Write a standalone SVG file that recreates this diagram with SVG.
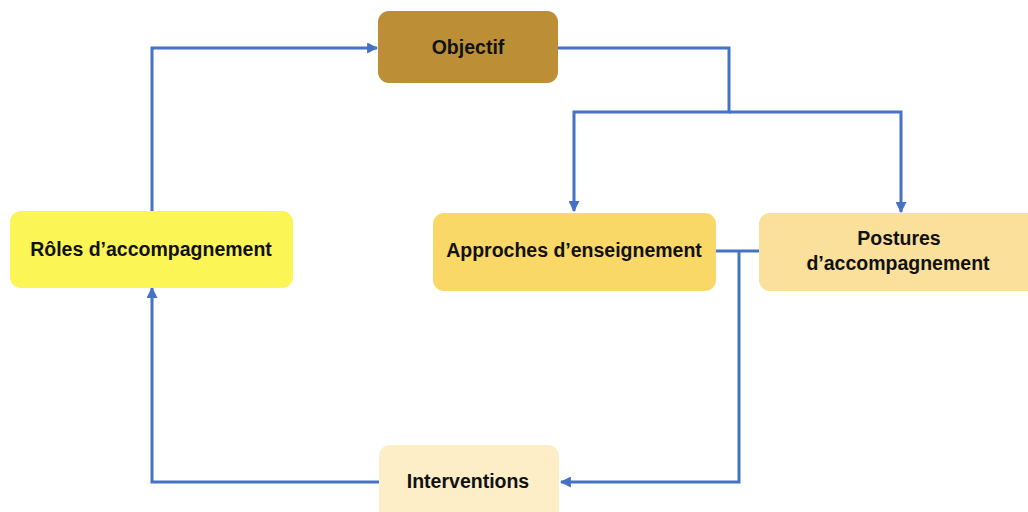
<svg xmlns="http://www.w3.org/2000/svg" width="1028" height="512" viewBox="0 0 1028 512">
<defs>
<style>
.lbl{font-family:"Liberation Sans",Arial,sans-serif;font-weight:bold;font-size:19.5px;fill:#111;text-anchor:middle}
.conn{fill:none;stroke:#4472C4;stroke-width:3}
</style>
<marker id="arr" viewBox="0 0 10 10" refX="9" refY="5" markerWidth="11" markerHeight="11" markerUnits="userSpaceOnUse" orient="auto">
<path d="M0,0 L10,5 L0,10 Z" fill="#4472C4"/>
</marker>
</defs>
<rect width="1028" height="512" fill="#ffffff"/>
<g id="connectors">
<path class="conn" d="M152,211 V48 H377" marker-end="url(#arr)"/>
<path class="conn" d="M558,48 H729 V112 H574 V211" marker-end="url(#arr)"/>
<path class="conn" d="M729,112 H901 V212" marker-end="url(#arr)"/>
<path class="conn" d="M716,251 H759"/>
<path class="conn" d="M739,251 V482 H561" marker-end="url(#arr)"/>
<path class="conn" d="M379,482 H152 V288" marker-end="url(#arr)"/>
</g>
<g id="objectif">
<rect x="378" y="11" width="180" height="72" rx="11" fill="#BC8F36"/>
<text class="lbl" x="468" y="54">Objectif</text>
</g>
<g id="roles">
<rect x="10" y="211" width="283" height="77" rx="11" fill="#FBF655"/>
<text class="lbl" x="151" y="256">Rôles d’accompagnement</text>
</g>
<g id="approches">
<rect x="433" y="213" width="283" height="78" rx="11" fill="#F9D867"/>
<text class="lbl" x="574" y="257">Approches d’enseignement</text>
</g>
<g id="postures">
<rect x="759" y="213" width="290" height="78" rx="11" fill="#FAE09A"/>
<text class="lbl" x="899" y="245">Postures</text>
<text class="lbl" x="898" y="270">d’accompagnement</text>
</g>
<g id="interventions">
<rect x="379" y="445" width="180" height="80" rx="11" fill="#FDEEC8"/>
<text class="lbl" x="468" y="488">Interventions</text>
</g>
</svg>
